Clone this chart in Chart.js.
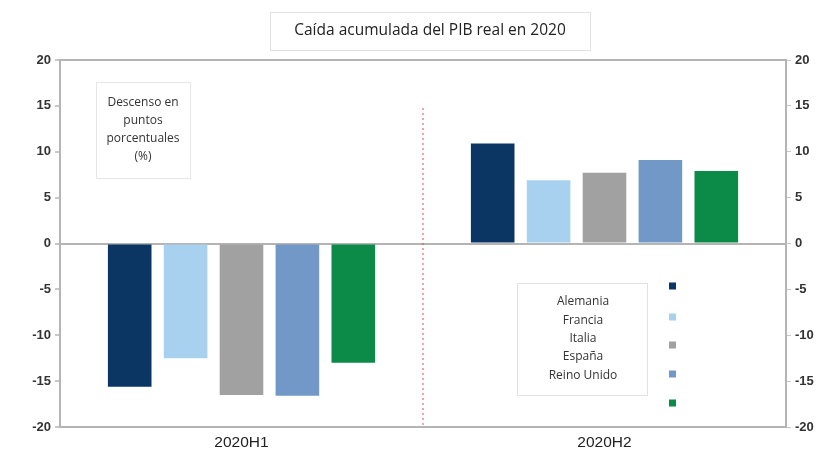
<!DOCTYPE html>
<html>
<head>
<meta charset="utf-8">
<script src="https://cdn.jsdelivr.net/npm/chart.js@4/dist/chart.umd.min.js"></script>
<style>
  html, body { margin: 0; padding: 0; background: #fff; }
  #wrap { width: 830px; height: 458px; }
</style>
</head>
<body>
<div id="wrap"><canvas id="c" width="830" height="458"></canvas></div>
<script>
// Periods and countries
const periods = ['2020H1', '2020H2'];
const countries = ['Alemania', 'Francia', 'Italia', 'España', 'Reino Unido'];
// Cumulative real GDP change (percentage points), one array per country
const alemania = [-15.6, 10.9];
const francia = [-12.5, 6.9];
const italia = [-16.5, 7.7];
const espana = [-16.6, 9.1];
const reinoUnido = [-13.0, 7.9];
const yTicks = [20, 15, 10, 5, 0, -5, -10, -15, -20];

const colors = ['#0b3563', '#a8d1f0', '#a1a1a1', '#7198c7', '#0c8a47'];
const seriesValues = [alemania, francia, italia, espana, reinoUnido];

const FONT = 'Liberation Sans, Arial, sans-serif';
const TEXT_FONT = '"Open Sans", "Noto Sans", sans-serif';

const overlay = {
  id: 'overlay',
  afterDraw(chart) {
    const ctx = chart.ctx;
    const ca = chart.chartArea;
    const x = chart.scales.x;
    ctx.save();

    // Title box
    ctx.strokeStyle = '#e2e2e2';
    ctx.lineWidth = 1;
    ctx.strokeRect(270.5, 12.5, 320, 38);
    ctx.fillStyle = '#222';
    ctx.font = '15.5px ' + TEXT_FONT;
    ctx.textAlign = 'center';
    ctx.textBaseline = 'middle';
    ctx.fillText('Caída acumulada del PIB real en 2020', 430, 31);

    // Dotted separator between periods
    const midX = (x.getPixelForValue(0) + x.getPixelForValue(1)) / 2;
    ctx.strokeStyle = '#e04a55';
    ctx.lineWidth = 1;
    ctx.setLineDash([2, 3]);
    ctx.beginPath();
    ctx.moveTo(midX, 108);
    ctx.lineTo(midX, ca.bottom - 2);
    ctx.stroke();
    ctx.setLineDash([]);

    // Unit note box
    ctx.strokeStyle = '#e6e6e6';
    ctx.strokeRect(96.5, 82.5, 94, 96);
    ctx.fillStyle = '#333';
    ctx.font = '12px ' + TEXT_FONT;
    ['Descenso en', 'puntos', 'porcentuales', '(%)'].forEach((t, i) => {
      ctx.fillText(t, 143, 103 + i * 18);
    });

    // Legend box with names
    ctx.strokeStyle = '#e2e2e2';
    ctx.strokeRect(517.5, 283.5, 130, 112);
    ctx.fillStyle = '#333';
    ctx.font = '12px ' + TEXT_FONT;
    countries.forEach((t, i) => {
      ctx.fillText(t, 583, 302 + i * 18.3);
    });

    // Legend colour squares
    const sqY = [286, 317, 345, 374, 403];
    colors.forEach((c, i) => {
      ctx.fillStyle = c;
      ctx.fillRect(669, sqY[i] - 3.5, 7, 7);
    });

    ctx.restore();
  }
};

const gridColor = (ctx) => {
  const v = ctx.tick && ctx.tick.value;
  return (v === 0 || v === 20 || v === -20) ? '#b4b4b4' : 'rgba(0,0,0,0)';
};

new Chart(document.getElementById('c'), {
  type: 'bar',
  data: {
    labels: periods,
    datasets: countries.map((name, i) => ({
      label: name,
      data: seriesValues[i],
      backgroundColor: colors[i],
      borderWidth: 0,
      barPercentage: 0.78,
      categoryPercentage: 0.77
    }))
  },
  options: {
    responsive: false,
    animation: false,
    devicePixelRatio: 1,
    layout: { padding: { top: 60, left: 0, right: 0, bottom: 0 } },
    plugins: {
      legend: { display: false },
      title: { display: false },
      tooltip: { enabled: false }
    },
    scales: {
      x: {
        grid: { display: false, drawTicks: false, tickLength: 0 },
        border: { display: false },
        ticks: { color: '#222', font: { family: FONT, size: 15.5 }, padding: 6 },
        afterFit(s) { s.height = 31; }
      },
      y: {
        position: 'left',
        min: -20, max: 20,
        afterBuildTicks(s) { s.ticks = yTicks.map(v => ({ value: v })); },
        grid: {
          drawOnChartArea: true,
          color: gridColor,
          lineWidth: 2,
          drawTicks: true,
          tickLength: 5,
          tickColor: '#c8c8c8'
        },
        border: { display: true, color: '#b4b4b4', width: 2 },
        ticks: { color: '#333', font: { family: FONT, size: 13, weight: 'bold' }, padding: 4 },
        afterFit(s) { s.width = 60; }
      },
      y2: {
        position: 'right',
        min: -20, max: 20,
        afterBuildTicks(s) { s.ticks = yTicks.map(v => ({ value: v })); },
        grid: {
          drawOnChartArea: false,
          drawTicks: true,
          tickLength: 5,
          tickColor: '#c8c8c8'
        },
        border: { display: true, color: '#b4b4b4', width: 2 },
        ticks: { color: '#333', font: { family: FONT, size: 13, weight: 'bold' }, padding: 4 },
        afterFit(s) { s.width = 44; }
      }
    }
  },
  plugins: [overlay]
});
</script>
</body>
</html>
